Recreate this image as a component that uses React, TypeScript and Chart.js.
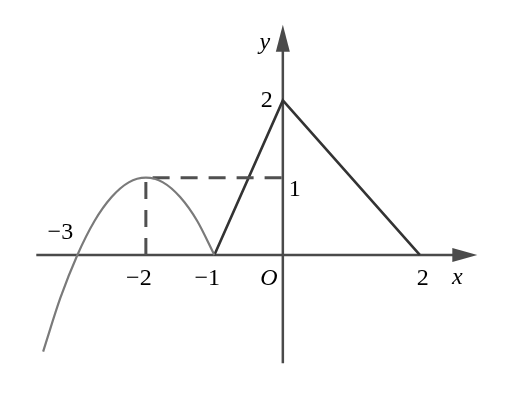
import { Chart, registerables, Plugin } from "chart.js";
import { useEffect, useRef } from "react";

Chart.register(...registerables);

// parabola piece, values
const curveX = [-3.5, -3.25, -3, -2.75, -2.5, -2.25, -2, -1.75, -1.5, -1.25, -1];
const curveY = [-1.25, -0.56, 0, 0.44, 0.75, 0.94, 1, 0.94, 0.75, 0.44, 0];

// broken line piece
const lineX = [-1, 0, 2];
const lineY = [0, 2, 0];

// dashed guide lines through the vertex
const dashX = [-2, -2, 0];
const dashY = [0, 1, 1];

// axis extents (data units)
const xAxisRange = [-3.6, 2.84];
const yAxisRange = [-1.4, 2.98];

// tick labels
const xTickValues = [-2, -1, 2];
const xTickLabels = ["\u22122", "\u22121", "2"];
const yTickValues = [1, 2];
const yTickLabels = ["1", "2"];

const toPoints = (xs: number[], ys: number[]) => xs.map((x, i) => ({ x, y: ys[i] }));

const axesPlugin: Plugin = {
    id: "mathAxes",
    beforeDatasetsDraw(chart) {
        const ctx = chart.ctx;
        const xs = chart.scales.x;
        const ys = chart.scales.y;
        const x0 = xs.getPixelForValue(0);
        const y0 = ys.getPixelForValue(0);
        ctx.save();
        ctx.strokeStyle = "#4a4a4a";
        ctx.fillStyle = "#4a4a4a";
        ctx.lineWidth = 2.5;
        // x axis
        const xl = xs.getPixelForValue(xAxisRange[0]);
        const xr = xs.getPixelForValue(xAxisRange[1]);
        ctx.beginPath();
        ctx.moveTo(xl, y0);
        ctx.lineTo(xr - 20, y0);
        ctx.stroke();
        ctx.beginPath();
        ctx.moveTo(xr, y0);
        ctx.lineTo(xr - 25, y0 - 7);
        ctx.lineTo(xr - 25, y0 + 7);
        ctx.closePath();
        ctx.fill();
        // y axis
        const yb = ys.getPixelForValue(yAxisRange[0]);
        const yt = ys.getPixelForValue(yAxisRange[1]);
        ctx.beginPath();
        ctx.moveTo(x0, yb);
        ctx.lineTo(x0, yt + 20);
        ctx.stroke();
        ctx.beginPath();
        ctx.moveTo(x0, yt);
        ctx.lineTo(x0 - 7, yt + 27);
        ctx.lineTo(x0 + 7, yt + 27);
        ctx.closePath();
        ctx.fill();
        ctx.restore();
    },
    afterDatasetsDraw(chart) {
        const ctx = chart.ctx;
        const xs = chart.scales.x;
        const ys = chart.scales.y;
        const x0 = xs.getPixelForValue(0);
        const y0 = ys.getPixelForValue(0);
        ctx.save();
        ctx.fillStyle = "#000";
        ctx.textAlign = "center";
        ctx.textBaseline = "middle";
        ctx.font = '24px "Liberation Serif"';
        xTickValues.forEach((v, i) => {
            ctx.fillText(xTickLabels[i], xs.getPixelForValue(v) - 7 + (v > 0 ? 10 : 0), y0 + 24);
        });
        yTickValues.forEach((v, i) => {
            const py = ys.getPixelForValue(v);
            if (v === 1) ctx.fillText(yTickLabels[i], x0 + 12, py + 12);
            else ctx.fillText(yTickLabels[i], x0 - 16, py);
        });
        ctx.fillText("\u22123", xs.getPixelForValue(-3) - 17, y0 - 22);
        ctx.font = 'italic 24px "Liberation Serif"';
        ctx.fillText("O", x0 - 14, y0 + 24);
        ctx.fillText("x", xs.getPixelForValue(xAxisRange[1]) - 20, y0 + 23);
        ctx.fillText("y", x0 - 18, ys.getPixelForValue(yAxisRange[1]) + 18);
        ctx.restore();
    },
};

export default function App() {
    const chartRef = useRef<HTMLCanvasElement | null>(null);
    useEffect(() => {
        document.body.style.margin = "0";
        const context = chartRef.current?.getContext("2d");
        if (!context) return;
        const chartInstance = new Chart(context, {
            type: "scatter",
            data: {
                datasets: [
                    {
                        data: toPoints(curveX, curveY),
                        showLine: true,
                        borderColor: "#7a7a7a",
                        borderWidth: 2.2,
                        pointRadius: 0,
                        cubicInterpolationMode: "monotone",
                    },
                    {
                        data: toPoints(dashX, dashY),
                        showLine: true,
                        borderColor: "#505050",
                        borderWidth: 3,
                        borderDash: [17, 11],
                        pointRadius: 0,
                    },
                    {
                        data: toPoints(lineX, lineY),
                        showLine: true,
                        borderColor: "#333",
                        borderWidth: 2.6,
                        pointRadius: 0,
                    },
                ],
            },
            options: {
                animation: false,
                responsive: true,
                maintainAspectRatio: false,
                layout: { padding: 0 },
                plugins: { legend: { display: false }, tooltip: { enabled: false } },
                scales: {
                    x: { type: "linear", display: false, min: -4.13, max: 3.39 },
                    y: { type: "linear", display: false, min: -1.89, max: 3.3 },
                },
            },
            plugins: [axesPlugin],
        });
        return () => {
            chartInstance.destroy();
        };
    }, []);
    return (
        <div style={{ position: "relative", width: 515, height: 401, background: "#fff" }}>
            <canvas ref={chartRef} />
        </div>
    );
}
